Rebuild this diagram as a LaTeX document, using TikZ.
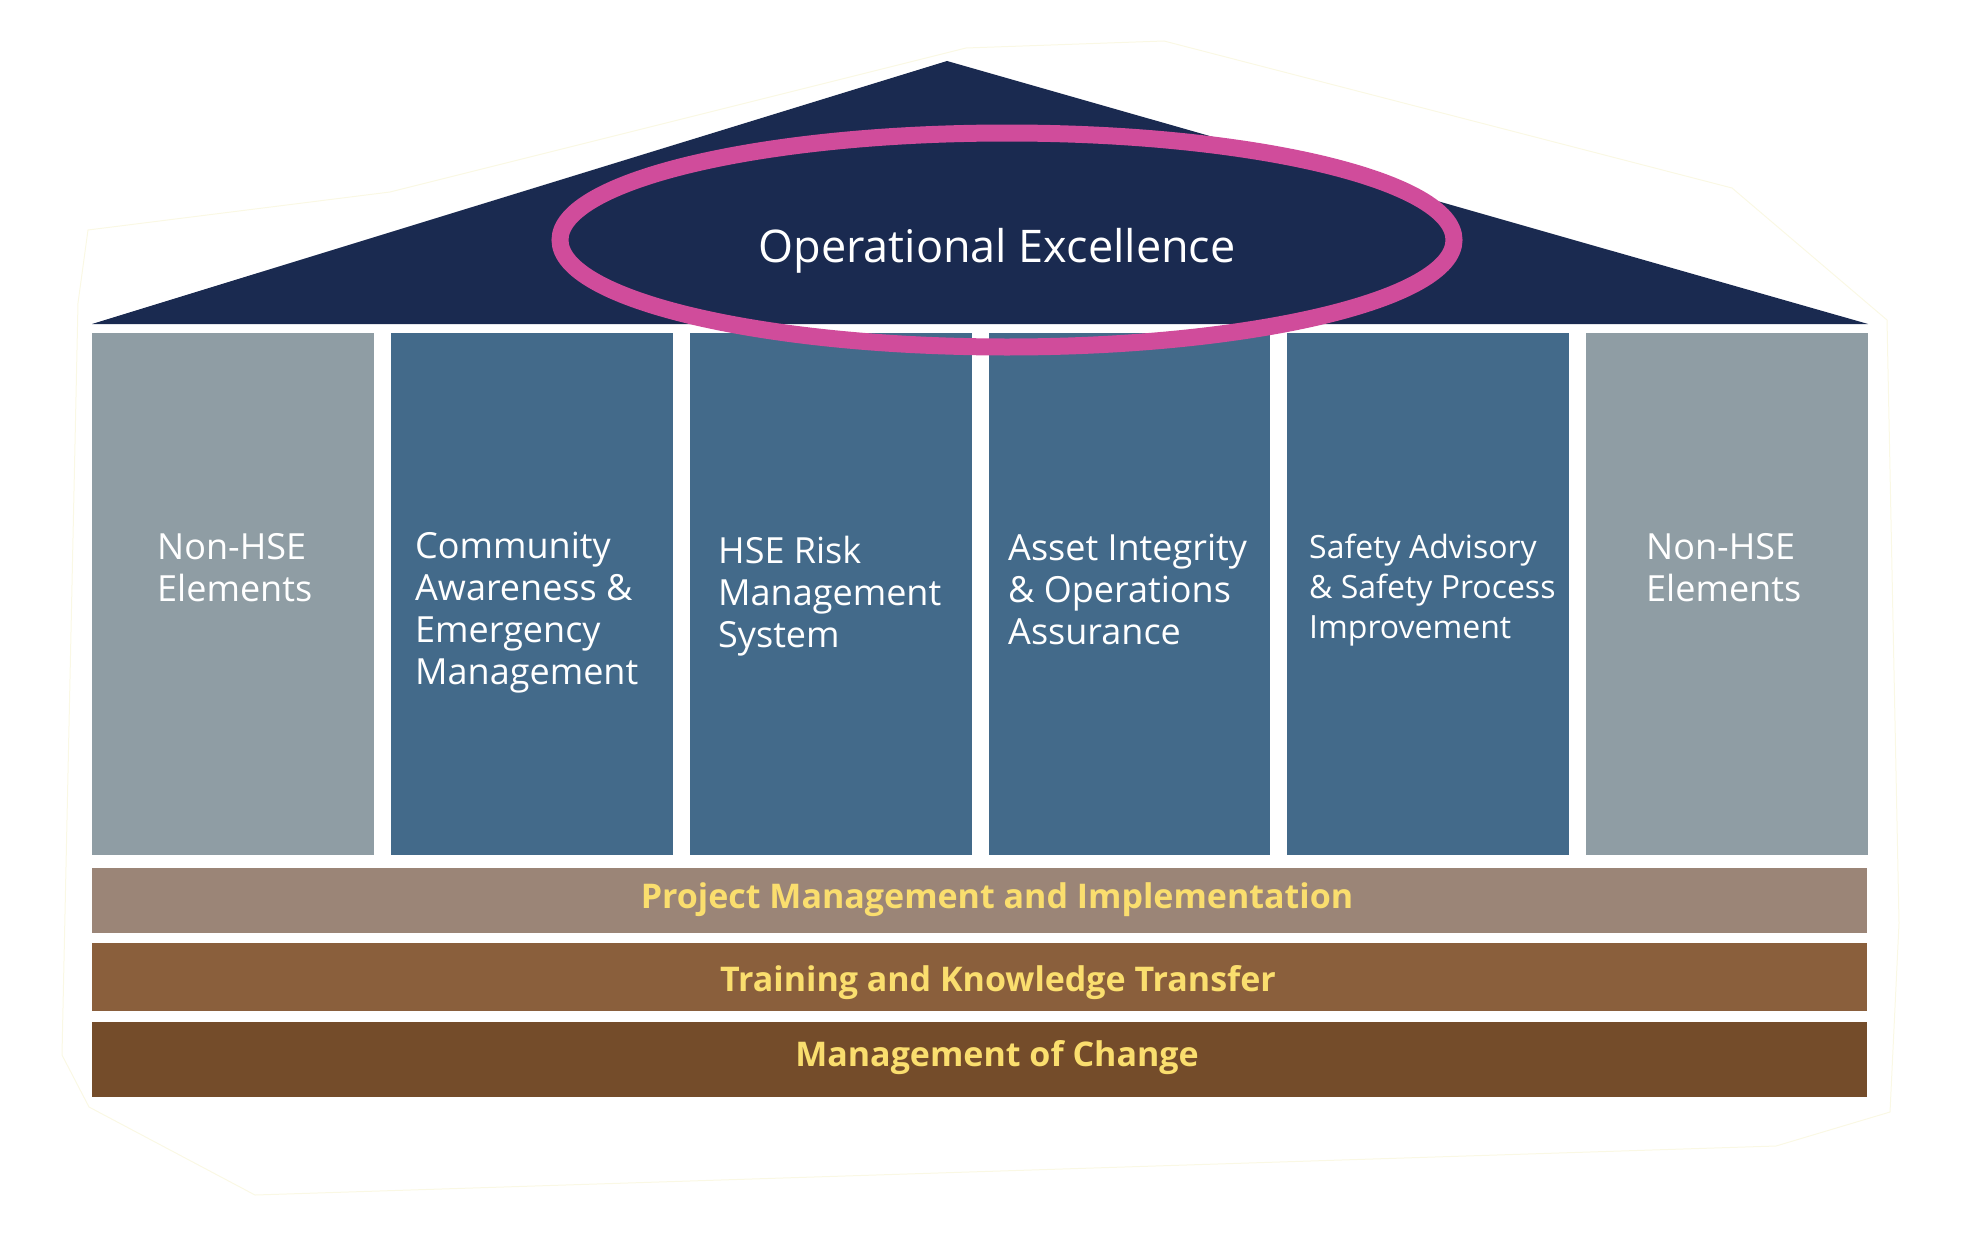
\documentclass[tikz,border=0pt]{standalone}
\usepackage{fontspec}
\setmainfont{Open Sans}
\usetikzlibrary{positioning}

\definecolor{roofnavy}{RGB}{26,42,80}
\definecolor{ringpink}{RGB}{208,76,155}
\definecolor{pillarblue}{RGB}{67,106,138}
\definecolor{pillargrey}{RGB}{143,157,164}
\definecolor{layerone}{RGB}{155,133,119}
\definecolor{layertwo}{RGB}{138,95,60}
\definecolor{layerthree}{RGB}{116,76,42}
\definecolor{labelyellow}{RGB}{250,222,110}
\definecolor{outlineyellow}{RGB}{250,248,228}

\tikzset{
  pillar/.style={fill=#1, minimum width=281.7pt, minimum height=522pt,
    inner sep=0pt, anchor=north west},
  pillartext/.style={text=white, align=left, anchor=base west, inner sep=0pt,
    font=\fontsize{36}{42}\selectfont},
  layer/.style={fill=#1, minimum width=1775pt, inner sep=0pt, anchor=north west},
  layertext/.style={text=labelyellow, anchor=base, inner sep=0pt,
    font=\fontsize{34}{40}\selectfont\bfseries},
}

\begin{document}
\begin{tikzpicture}[x=1pt,y=-1pt]
    \useasboundingbox (0,0) rectangle (1969,1247);
    % faint outline round the house
    \draw[outlineyellow, line width=1pt, line join=round]
        (88,230) -- (390,192) -- (966,48) -- (1164,41) -- (1732,188)
        -- (1887,320) -- (1899,923) -- (1890,1112) -- (1776,1146)
        -- (255,1195) -- (89,1107) -- (62,1055) -- (78,303) -- cycle;
    % roof
    \coordinate (apex) at (947,61);
    \fill[roofnavy] (92,324) -- (apex) -- (1868,324) -- cycle;
    % pillars
    \foreach \i/\c in {1/pillargrey,2/pillarblue,3/pillarblue,4/pillarblue,5/pillarblue,6/pillargrey}{%
            \node[pillar=\c] (p\i) at ({92+(\i-1)*298.8},333) {};
        }
    % (base = baseline of the last line)
    \node[pillartext] (t1) at (157,601) {Non-HSE\\Elements};
    \node[pillartext] (t2) at (415,684) {Community\\Awareness \&\\Emergency\\Management};
    \node[pillartext] (t3) at (718,647) {HSE Risk\\Management\\System};
    \node[pillartext] (t4) at (1008,644) {Asset Integrity\\\& Operations\\Assurance};
    \node[pillartext, font=\fontsize{32}{40}\selectfont] (t5) at (1309,638)
        {Safety Advisory\\\& Safety Process\\Improvement};
    \node[pillartext] (t6) at (1646,601) {Non-HSE\\Elements};
    % foundation layers
    \node[layer=layerone, minimum height=65pt] (l1) at (92,868) {};
    \node[layer=layertwo, minimum height=68pt] (l2) at (92,943) {};
    \node[layer=layerthree, minimum height=75pt] (l3) at (92,1022) {};
    \node[layertext] at (997,908) {Project Management and Implementation};
    \node[layertext] at (998,991) {Training and Knowledge Transfer};
    \node[layertext] at (997,1066) {Management of Change};
    % ring
    \draw[ringpink, line width=17pt] (1007,240) ellipse [x radius=447, y radius=107];
    \node[text=white, anchor=base, inner sep=0pt, font=\fontsize{45}{54}\selectfont]
        (oe) at (997,262) {Operational Excellence};
\end{tikzpicture}
\end{document}
